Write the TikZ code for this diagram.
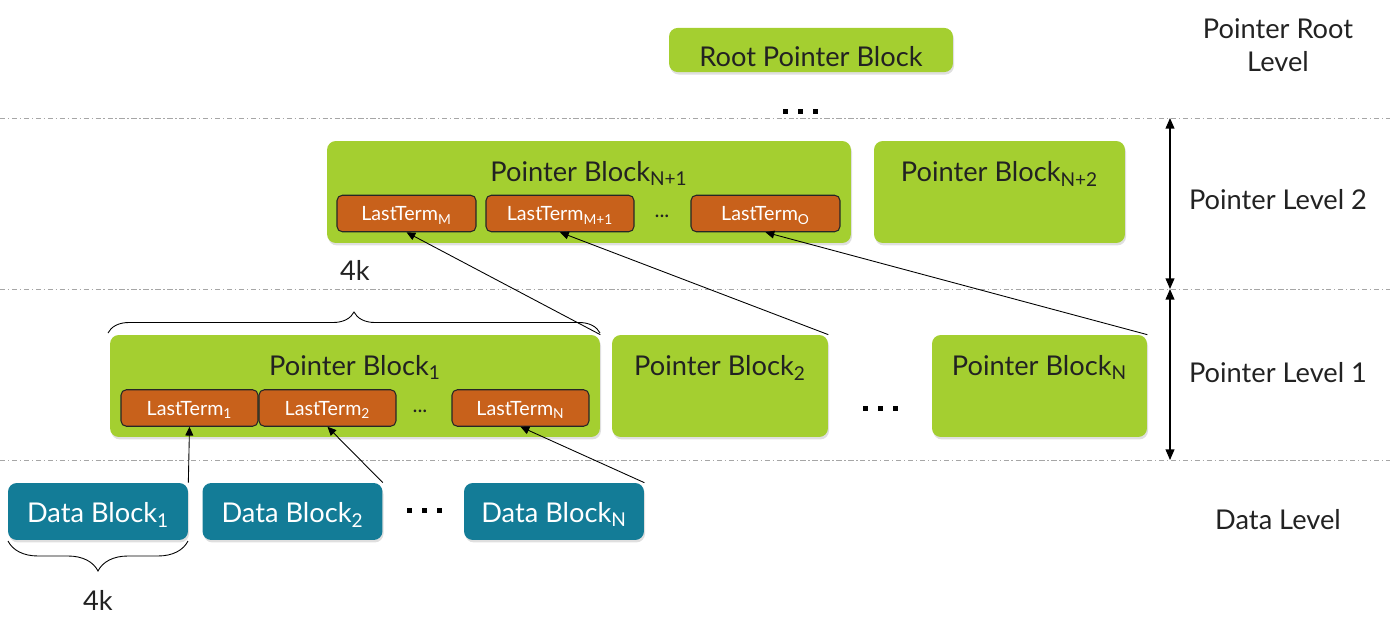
\documentclass[tikz,border=0pt]{standalone}
\usepackage{fontspec}
\setmainfont{Lato}
\usepackage{xcolor}
\usetikzlibrary{arrows.meta,positioning,decorations.pathreplacing,shadows}

\definecolor{blockgreen}{HTML}{A4CF30}
\definecolor{termorange}{HTML}{C8611B}
\definecolor{datateal}{HTML}{137C97}
\definecolor{inktext}{HTML}{222222}

\begin{document}
\begin{tikzpicture}[x=0.02cm,y=-0.02cm,
  pblock/.style={rounded corners=5pt, fill=blockgreen, text=inktext, font=\fontsize{15.5}{18}\selectfont,
    minimum height=2.04cm, drop shadow={opacity=0.25, shadow xshift=0.6pt, shadow yshift=-1.4pt}},
  term/.style={rounded corners=3pt, draw=black!85, line width=0.6pt, fill=termorange, text=white,
    font=\fontsize{11.2}{13}\selectfont, text height=8.5pt, text depth=0pt,
    minimum height=0.73cm, inner sep=1pt},
  dblock/.style={rounded corners=5pt, fill=datateal, text=white, font=\fontsize{15.5}{18}\selectfont,
    text height=12pt, text depth=0pt, minimum width=3.6cm, minimum height=1.14cm,
    drop shadow={opacity=0.25, shadow xshift=0.6pt, shadow yshift=-1.4pt}},
  title/.style={anchor=base, text=inktext, font=\fontsize{15.5}{18}\selectfont, inner sep=0pt},
  lvl/.style={text=inktext, font=\fontsize{15.5}{18.5}\selectfont, align=center},
  levelline/.style={gray!70, line width=0.5pt, dash pattern=on 3pt off 1.5pt on 0.8pt off 1.5pt},
  ptr/.style={-{Triangle[length=5pt,width=4.5pt]}, line width=0.5pt},
  span/.style={{Triangle[length=6pt,width=5pt]}-{Triangle[length=6pt,width=5pt]}, line width=0.7pt}]

  \useasboundingbox (0,0) rectangle (1400,635);

  % level separators
  \foreach \y in {118,289,460}
    \draw[levelline] (0,\y) -- (1390,\y);

  % root level
  \node[pblock, minimum width=5.68cm, minimum height=0.88cm, text height=18.5pt, text depth=0pt] (root) at (811,50) {Root Pointer Block};
  \foreach \dx in {-15,0,15}
    \fill (800+\dx-2.5,109.5) rectangle ++(5,5);

  % pointer level 2
  \node[pblock, minimum width=10.48cm] (pbn1) at (589,192) {};
  \node[title] (tn1) at (589,181) {Pointer Block\textsubscript{N+1}};
  \node[term, minimum width=2.78cm] (ltm) at (406.5,213.5) {LastTerm\textsubscript{M}};
  \node[term, minimum width=2.96cm] (ltm1) at (560,213.5) {LastTerm\textsubscript{M+1}};
  \node[text=inktext, font=\fontsize{12}{13}\selectfont] (dots2) at (662,216) {...};
  \node[term, minimum width=2.98cm] (lto) at (765.5,213.5) {LastTerm\textsubscript{O}};
  \node[pblock, minimum width=5.02cm] (pbn2) at (999.5,192) {};
  \node[title] (tn2) at (999.5,181) {Pointer Block\textsubscript{N+2}};

  % pointer level 1
  \node[pblock, minimum width=9.8cm] (pb1) at (355,386) {};
  \node[title] (t1) at (355,375) {Pointer Block\textsubscript{1}};
  \node[term, minimum width=2.74cm] (lt1) at (189.5,408) {LastTerm\textsubscript{1}};
  \node[term, minimum width=2.74cm] (lt2) at (327.5,408) {LastTerm\textsubscript{2}};
  \node[text=inktext, font=\fontsize{12}{13}\selectfont] (dots1) at (420,411) {...};
  \node[term, minimum width=2.74cm] (ltn) at (520.5,408) {LastTerm\textsubscript{N}};
  \node[pblock, minimum width=4.32cm] (pb2) at (720,386) {};
  \node[title] (t2) at (720,375) {Pointer Block\textsubscript{2}};
  \node[pblock, minimum width=4.3cm] (pbn) at (1039.5,386) {};
  \node[title] (tn) at (1039.5,375) {Pointer Block\textsubscript{N}};
  \foreach \dx in {-15,0,15}
    \fill (880+\dx-2.5,405.5) rectangle ++(5,5);

  % data level
  \node[dblock] (db1) at (98,511.5) {Data Block\textsubscript{1}};
  \node[dblock] (db2) at (292.5,511.5) {Data Block\textsubscript{2}};
  \node[dblock] (dbn) at (554,511.5) {Data Block\textsubscript{N}};
  \foreach \dx in {-15,0,15}
    \fill (424+\dx-2.5,507.5) rectangle ++(5,5);

  % pointers up the tree
  \draw[ptr] (db1.north east) -- (lt1.south);
  \draw[ptr] (db2.north east) -- (lt2.south);
  \draw[ptr] (dbn.north east) -- (ltn.south);
  \draw[ptr] (pb1.north east) -- (ltm.south);
  \draw[ptr] (pb2.north east) -- (ltm1.south);
  \draw[ptr] (pbn.north east) -- (lto.south);

  % block sizes
  \draw[decorate, decoration={brace, amplitude=0.42cm}, line width=0.5pt] (108,333) -- (600,333);
  \node[lvl] (k1) at (355,270) {4k};
  \draw[decorate, decoration={brace, amplitude=0.6cm}, line width=0.5pt] (188,541) -- (8,541);
  \node[lvl] (k2) at (98,600) {4k};

  % level spans
  \coordinate (s0) at (1170,118);
  \coordinate (s1) at (1170,289);
  \coordinate (s2) at (1170,460);
  \draw[span] (s0) -- (s1);
  \draw[span] (s1) -- (s2);

  % level names
  \node[lvl] (lroot) at (1278,45) {Pointer Root\\Level};
  \node[lvl] (l2) at (1278,200) {Pointer Level 2};
  \node[lvl] (l1) at (1278,373) {Pointer Level 1};
  \node[lvl] (l0) at (1278,520) {Data Level};

\end{tikzpicture}
\end{document}
